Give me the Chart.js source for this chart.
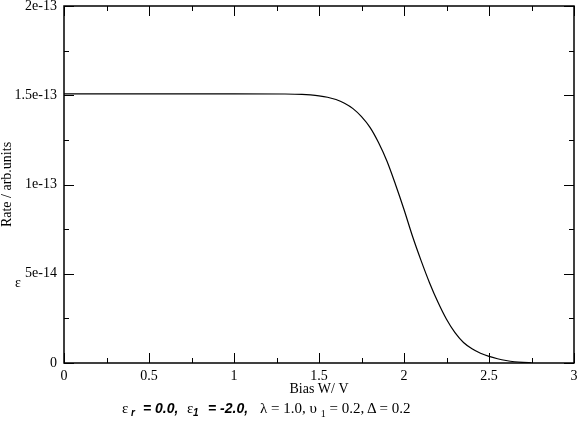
<!DOCTYPE html>
<html>
<head>
<meta charset="utf-8">
<script src="https://cdn.jsdelivr.net/npm/chart.js@4.4.1/dist/chart.umd.min.js"></script>
<style>
  body { margin: 0; background: #fff; }
  #wrap { position: relative; width: 579px; height: 426px; }
  .serif { font-family: 'Liberation Serif', 'Times New Roman', serif; font-size: 14px; color: #000; }
  #note > span { position: absolute; top: 401px; white-space: pre; line-height: 15px; font-size: 15px; color: #000;
                 font-family: 'Liberation Serif', 'Times New Roman', serif; }
  #note .bi { font-family: 'Liberation Sans', Arial, sans-serif; font-weight: bold; font-style: italic; font-size: 14px; }
  #note > .sub { top: 405px; font-size: 10px; }
  #note sub { font-size: 10px; vertical-align: -4px; line-height: 0; }
  #stray { position: absolute; left: 15px; top: 275px; }
</style>
</head>
<body>
<div id="wrap">
  <canvas id="chart"></canvas>
  <div id="stray" class="serif">ε</div>
  <div id="note">
    <span style="left:122px">ε</span>
    <span class="bi sub" style="left:131px">r</span>
    <span class="bi" style="left:143px">= 0.0,</span>
    <span style="left:187px">ε</span>
    <span class="bi sub" style="left:193px">1</span>
    <span class="bi" style="left:208px">= -2.0,</span>
    <span style="left:260px">λ = 1.0, υ <sub>1</sub> = 0.2, Δ = 0.2</span>
  </div>
</div>
<script>
// values
const biasV = [0, 0.5, 1.0, 1.3, 1.4, 1.45, 1.5, 1.55, 1.6, 1.65, 1.7, 1.75, 1.8, 1.85, 1.9,
  1.95, 2.0, 2.05, 2.1, 2.15, 2.2, 2.25, 2.3, 2.35, 2.4, 2.45, 2.5, 2.55, 2.6, 2.65, 2.7, 2.75];
const rate = [1.508e-13, 1.508e-13, 1.508e-13, 1.507e-13, 1.505e-13, 1.502e-13, 1.497e-13,
  1.489e-13, 1.476e-13, 1.455e-13, 1.425e-13, 1.38e-13, 1.32e-13, 1.235e-13, 1.13e-13,
  1.0e-13, 0.86e-13, 0.71e-13, 0.575e-13, 0.45e-13, 0.34e-13, 0.245e-13, 0.17e-13,
  0.115e-13, 0.08e-13, 0.055e-13, 0.037e-13, 0.024e-13, 0.014e-13, 0.007e-13, 0.003e-13, 0.001e-13];

const xTickValues = [0, 0.5, 1, 1.5, 2, 2.5, 3];
const xTickLabels = ['0', '0.5', '1', '1.5', '2', '2.5', '3'];
const yTickValues = [0, 5e-14, 1e-13, 1.5e-13, 2e-13];
const yTickLabels = ['0', '5e-14', '1e-13', '1.5e-13', '2e-13'];

const serif = { family: "'Liberation Serif', 'Times New Roman', serif", size: 14 };

// minor ticks halfway between the major ones
const minors = vals => vals.slice(1).map((v, i) => (v + vals[i]) / 2);

// frame round the plot with inward ticks on all four sides
const framePlugin = {
  id: 'frame',
  afterDatasetsDraw(chart) {
    const { ctx, chartArea: a, scales: { x, y } } = chart;
    ctx.save();
    ctx.strokeStyle = '#000';
    ctx.lineWidth = 1.5;
    ctx.strokeRect(a.left, a.top, a.right - a.left, a.bottom - a.top);
    ctx.lineWidth = 1;
    ctx.beginPath();
    const xTick = (v, len) => {
      const px = Math.round(x.getPixelForValue(v)) + 0.5;
      ctx.moveTo(px, a.bottom); ctx.lineTo(px, a.bottom - len);
      ctx.moveTo(px, a.top); ctx.lineTo(px, a.top + len);
    };
    const yTick = (v, len) => {
      const py = Math.round(y.getPixelForValue(v)) + 0.5;
      ctx.moveTo(a.left, py); ctx.lineTo(a.left + len, py);
      ctx.moveTo(a.right, py); ctx.lineTo(a.right - len, py);
    };
    xTickValues.forEach(v => xTick(v, 10));
    minors(xTickValues).forEach(v => xTick(v, 5));
    yTickValues.forEach(v => yTick(v, 10));
    minors(yTickValues).forEach(v => yTick(v, 5));
    ctx.stroke();
    ctx.restore();
  }
};

new Chart(document.getElementById('chart'), {
  type: 'line',
  data: {
    datasets: [{
      data: biasV.map((b, i) => ({ x: b, y: rate[i] })),
      borderColor: '#000',
      borderWidth: 1.2,
      pointRadius: 0,
      cubicInterpolationMode: 'monotone',
      fill: false
    }]
  },
  options: {
    responsive: true,
    maintainAspectRatio: false,
    animation: false,
    layout: { padding: { top: 6, right: 5, left: 0, bottom: 0 } },
    plugins: { legend: { display: false }, tooltip: { enabled: false } },
    scales: {
      x: {
        type: 'linear',
        min: 0,
        max: 3,
        grid: { display: false, drawTicks: false },
        border: { display: false },
        afterBuildTicks: s => { s.ticks = xTickValues.map(v => ({ value: v })); },
        afterFit: s => { s.height = 63; s.paddingLeft = 0; s.paddingRight = 0; },
        ticks: {
          autoSkip: false,
          maxRotation: 0,
          padding: 5,
          color: '#000',
          font: serif,
          callback: (v, i) => xTickLabels[i]
        },
        title: {
          display: true,
          text: 'Bias W/ V',
          color: '#000',
          font: serif,
          padding: { top: 0, bottom: 28 }
        }
      },
      y: {
        min: 0,
        max: 2e-13,
        grid: { display: false, drawTicks: false },
        border: { display: false },
        afterBuildTicks: s => { s.ticks = yTickValues.map(v => ({ value: v })); },
        afterFit: s => { s.width = 64; s.paddingTop = 0; s.paddingBottom = 0; },
        ticks: {
          autoSkip: false,
          padding: 7,
          color: '#000',
          font: serif,
          callback: (v, i) => yTickLabels[i]
        },
        title: {
          display: true,
          text: 'Rate / arb.units',
          color: '#000',
          font: { ...serif, lineHeight: 1 },
          padding: { top: 0, bottom: 0 }
        }
      }
    }
  },
  plugins: [framePlugin]
});
</script>
</body>
</html>
